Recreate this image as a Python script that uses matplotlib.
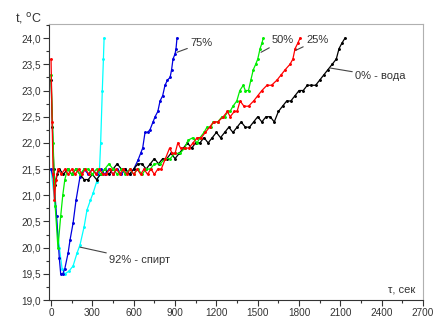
import matplotlib
matplotlib.use("Agg")
import matplotlib.pyplot as plt
from matplotlib.ticker import MultipleLocator, FuncFormatter

plt.rcParams['font.family'] = ['Liberation Sans', 'DejaVu Sans']

# 0% - вода
t_water = [0, 10, 20, 30, 45,
           60, 90, 120, 150, 180, 210, 240, 270, 300, 330,
           360, 390, 420, 450, 480, 510, 540, 570, 600, 630,
           660, 690, 720, 750, 780, 810, 840, 870, 900, 930,
           960, 990, 1020, 1050, 1080, 1110, 1140, 1170, 1200, 1230,
           1260, 1290, 1320, 1350, 1380, 1410, 1440, 1470, 1500, 1530,
           1560, 1590, 1620, 1650, 1680, 1710, 1740, 1770, 1800, 1830,
           1860, 1890, 1920, 1950, 1980, 2010, 2040, 2070,
           2090, 2110, 2133]
T_water = [23.2, 22.3, 21.5, 21.2, 21.4,
           21.5, 21.4, 21.5, 21.4, 21.5, 21.4, 21.3, 21.3, 21.4, 21.3,
           21.4, 21.5, 21.4, 21.5, 21.6, 21.5, 21.5, 21.4, 21.5, 21.6,
           21.6, 21.5, 21.6, 21.7, 21.6, 21.7, 21.7, 21.8, 21.7, 21.8,
           21.9, 22.0, 21.9, 22.0, 22.0, 22.1, 22.0, 22.1, 22.2, 22.1,
           22.2, 22.3, 22.2, 22.3, 22.4, 22.3, 22.3, 22.4, 22.5, 22.4,
           22.5, 22.5, 22.4, 22.6, 22.7, 22.8, 22.8, 22.9, 23.0, 23.0,
           23.1, 23.1, 23.1, 23.2, 23.3, 23.4, 23.5, 23.6,
           23.8, 23.9, 24.0]

# 25%
t_25 = [0, 8, 15, 25, 35, 50,
        75, 100, 125, 150, 175, 200, 225, 250, 275, 300,
        325, 350, 375, 400, 425, 450, 475, 500, 525, 550,
        575, 600, 625, 650, 675, 700, 725, 750, 775, 800,
        830, 860, 880, 900, 920, 940, 970, 1000, 1030, 1060,
        1090, 1120, 1150, 1180, 1210, 1250, 1280, 1300, 1330, 1350,
        1372, 1400, 1433, 1470, 1500, 1530, 1567, 1600, 1640, 1670,
        1700, 1734, 1755, 1771, 1790, 1807]
T_25 = [23.6, 22.4, 21.4, 20.9, 21.3, 21.5,
        21.4, 21.5, 21.4, 21.5, 21.4, 21.5, 21.4, 21.5, 21.4, 21.5,
        21.4, 21.5, 21.4, 21.4, 21.5, 21.4, 21.5, 21.4, 21.5, 21.4,
        21.5, 21.4, 21.5, 21.4, 21.5, 21.4, 21.5, 21.4, 21.5, 21.5,
        21.7, 21.9, 21.8, 21.8, 22.0, 21.9, 21.9, 21.9, 22.0, 22.1,
        22.1, 22.2, 22.3, 22.4, 22.4, 22.5, 22.6, 22.5, 22.6, 22.6,
        22.8, 22.7, 22.7, 22.8, 22.9, 23.0, 23.1, 23.1, 23.2, 23.3,
        23.4, 23.5, 23.6, 23.8, 23.9, 24.0]

# 50%
t_50 = [0, 15, 30, 50, 70, 85, 100, 120,
        150, 180, 210, 240, 270, 300, 330, 360, 390, 420,
        450, 480, 510, 540, 570, 600, 630, 660, 690,
        720, 750, 791, 830, 864, 900, 936, 970, 994, 1030,
        1060, 1081, 1110, 1132, 1160, 1176, 1210, 1241, 1260, 1284,
        1299, 1320, 1348, 1370, 1395, 1410, 1433, 1450, 1468, 1485,
        1500, 1517, 1530, 1540]
T_50 = [23.3, 22.0, 20.8, 20.0, 20.6, 21.0, 21.3, 21.5,
        21.4, 21.5, 21.4, 21.5, 21.5, 21.4, 21.5, 21.4, 21.5, 21.6,
        21.5, 21.4, 21.5, 21.4, 21.5, 21.4, 21.5, 21.4, 21.5,
        21.5, 21.6, 21.6, 21.7, 21.7, 21.8, 21.8, 21.9, 22.05, 22.1,
        22.0, 22.1, 22.2, 22.3, 22.3, 22.4, 22.4, 22.5, 22.5, 22.6,
        22.6, 22.7, 22.8, 23.0, 23.1, 23.0, 23.0, 23.2, 23.4, 23.5,
        23.6, 23.8, 23.9, 24.0]

# 75%
t_75 = [0, 20, 40, 60, 70, 85, 100, 124, 138, 160, 181, 210, 240,
        270, 300, 330, 360, 390, 420, 450, 480, 510, 540, 570, 600,
        631, 650, 665, 682, 700, 718, 740, 755, 775, 791,
        810, 827, 845, 864, 875, 885, 900, 907, 914]
T_75 = [21.5, 21.3, 20.6, 19.8, 19.5, 19.5, 19.6, 19.9, 20.15, 20.47, 20.9, 21.35, 21.5,
        21.4, 21.5, 21.4, 21.5, 21.4, 21.5, 21.4, 21.5, 21.4, 21.5, 21.4, 21.5,
        21.67, 21.8, 21.9, 22.2, 22.2, 22.25, 22.4, 22.5, 22.6, 22.8,
        22.9, 23.1, 23.2, 23.25, 23.4, 23.6, 23.7, 23.8, 24.0]

# 92% - спирт
t_92 = [0, 30, 60, 80, 100, 130, 160, 189, 210, 240, 261, 285, 305, 330,
        350, 360, 372, 380, 385]
T_92 = [21.5, 20.8, 20.0, 19.6, 19.5, 19.55, 19.65, 19.9, 20.05, 20.4, 20.72, 20.9, 21.04, 21.25,
        21.4, 22.0, 23.0, 23.6, 24.0]

fig = plt.figure(figsize=(4.35, 3.2), dpi=100)
ax = fig.add_axes([0.1126, 0.0625, 0.86, 0.8625])

kw = dict(lw=0.9, marker='o', ms=1.1)
ax.plot(t_92, T_92, color='#00ffff', **kw)
ax.plot(t_75, T_75, color='#0000e0', **kw)
ax.plot(t_water, T_water, color='#000000', **kw)
ax.plot(t_50, T_50, color='#00ee00', **kw)
ax.plot(t_25, T_25, color='#ff0000', **kw)

ax.set_xlim(-15, 2700)
ax.set_ylim(19.0, 24.27)
ax.xaxis.set_major_locator(MultipleLocator(300))
ax.xaxis.set_minor_locator(MultipleLocator(150))
ax.yaxis.set_major_locator(MultipleLocator(0.5))
ax.yaxis.set_minor_locator(MultipleLocator(0.25))
ax.yaxis.set_major_formatter(FuncFormatter(lambda v, p: f"{v:.1f}".replace('.', ',')))
ax.tick_params(which='major', length=4, width=0.8, labelsize=7.2, colors='#333333', pad=2)
ax.tick_params(which='minor', length=2.5, width=0.8, colors='#333333')

for s in ['top', 'right']:
    ax.spines[s].set_color('#b0b0b0')
for s in ['left', 'bottom']:
    ax.spines[s].set_color('#333333')

fig.text(15 / 435, 1 - 19 / 320, "t, $^{\\mathrm{o}}$C", fontsize=9, color='#333333', va='center')
ax.text(2640, 19.1, "τ, сек", fontsize=8, color='#333333', ha='right', va='bottom')

akw = dict(fontsize=8, color='#333333', va='center')
lkw = dict(arrowstyle='-', color='#444444', lw=0.8, shrinkA=0, shrinkB=0)
ax.annotate("75%", xy=(914, 23.73), xytext=(1009, 23.9), arrowprops=lkw, **akw)
ax.annotate("50%", xy=(1524, 23.73), xytext=(1604, 23.96), arrowprops=lkw, **akw)
ax.annotate("25%", xy=(1778, 23.77), xytext=(1850, 23.96), arrowprops=lkw, **akw)
ax.annotate("0% - вода", xy=(2025, 23.43), xytext=(2206, 23.27), arrowprops=lkw, **akw)
ax.annotate("92% - спирт", xy=(210, 20.01), xytext=(421, 19.76), arrowprops=lkw, **akw)

fig.savefig("out.png", dpi=100)
